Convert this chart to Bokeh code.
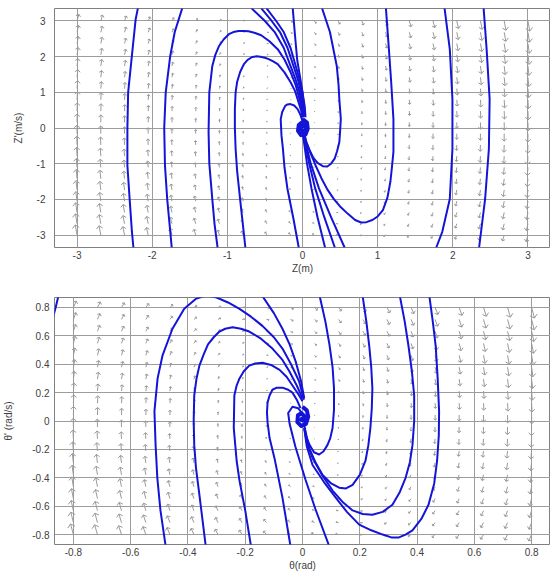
import numpy as np
from bokeh.plotting import figure
from bokeh.layouts import column
from bokeh.models import FixedTicker, Range1d
from bokeh.embed import file_html
from bokeh.resources import INLINE

FONT = "Liberation Sans"
CURVE_COLOR = "#1414d8"
ARROW_COLOR = "#9a9a9a"

# ---------------- top panel : heave Z ----------------
Z_X_RANGE = (-3.3, 3.3)
Z_Y_RANGE = (-3.35, 3.35)
Z_TICKS = [-3, -2, -1, 0, 1, 2, 3]
Z_TICK_LABELS = ["-3", "-2", "-1", "0", "1", "2", "3"]
Z_GRID = [-3.0, -2.684, -2.368, -2.053, -1.737, -1.421, -1.105, -0.789, -0.474, -0.158,
          0.158, 0.474, 0.789, 1.105, 1.421, 1.737, 2.053, 2.368, 2.684, 3.0]
Z_STIFFNESS = 10.0
Z_DAMPING = 2.0

Z_TRAJ_A = [(-2.19, 3.36), (-2.22, 3.05), (-2.27, 2.03), (-2.32, 1.0), (-2.33, 0.0), (-2.33, -1.05),
            (-2.30, -2.0), (-2.27, -2.9), (-2.25, -3.35)]
Z_TRAJ_B = [(-1.60, 3.36), (-1.70, 2.69), (-1.76, 2.02), (-1.82, 1.0), (-1.84, 0.0), (-1.83, -1.05),
            (-1.80, -2.0), (-1.76, -2.9), (-1.74, -3.35)]
Z_TRAJ_C = [(-1.13, -3.35), (-1.17, -2.7), (-1.20, -2.0), (-1.24, -1.0), (-1.25, -0.11), (-1.24, 1.0),
            (-1.20, 1.74), (-1.16, 2.05), (-1.11, 2.30), (-1.05, 2.48), (-0.98, 2.63), (-0.92, 2.69),
            (-0.85, 2.72), (-0.78, 2.72), (-0.72, 2.71), (-0.64, 2.67), (-0.55, 2.60), (-0.44, 2.43),
            (-0.33, 2.21), (-0.24, 1.92), (-0.16, 1.57), (-0.09, 1.2), (-0.04, 0.81), (0.0, 0.5),
            (0.02, 0.3)]
Z_TRAJ_D = [(-0.76, -3.35), (-0.83, -2.0), (-0.87, -1.2), (-0.89, -0.59), (-0.90, 0.0), (-0.90, 0.53),
            (-0.89, 1.0), (-0.87, 1.29), (-0.83, 1.57), (-0.78, 1.79), (-0.73, 1.91), (-0.67, 1.99),
            (-0.61, 2.01), (-0.56, 2.0), (-0.50, 1.97), (-0.45, 1.93), (-0.39, 1.87), (-0.33, 1.79),
            (-0.24, 1.56), (-0.16, 1.29), (-0.10, 1.04), (-0.065, 0.81), (-0.02, 0.5), (0.0, 0.3)]
Z_TRAJ_E = [(0.26, 3.36), (0.365, 2.69), (0.456, 1.74), (0.48, 1.2), (0.49, 0.81), (0.51, 0.25),
            (0.50, -0.1), (0.49, -0.4), (0.46, -0.65), (0.43, -0.85), (0.38, -1.0), (0.33, -1.08),
            (0.27, -1.07), (0.20, -0.98), (0.14, -0.82), (0.09, -0.6), (0.05, -0.4), (0.03, -0.25)]
Z_TRAJ_F = [(1.11, 3.36), (1.15, 2.2), (1.18, 1.29), (1.21, 0.25), (1.21, -0.67), (1.19, -1.1),
            (1.17, -1.5), (1.13, -1.95), (1.07, -2.3), (1.00, -2.48), (0.93, -2.58), (0.85, -2.64),
            (0.78, -2.65), (0.70, -2.58), (0.60, -2.4), (0.50, -2.2), (0.42, -2.0), (0.33, -1.72),
            (0.25, -1.4), (0.17, -1.03), (0.10, -0.67), (0.05, -0.38), (0.03, -0.2)]
Z_TRAJ_G = [(1.89, 3.36), (1.96, 2.21), (1.995, 0.81), (1.995, -0.59), (1.96, -1.99), (1.86, -2.91),
            (1.78, -3.35)]
Z_TRAJ_H = [(2.41, 3.36), (2.45, 2.21), (2.49, 0.81), (2.48, -0.59), (2.43, -1.99), (2.35, -3.35)]
Z_TRAJ_J1 = [(-0.68, 3.36), (-0.50, 3.0), (-0.37, 2.69), (-0.25, 2.25), (-0.16, 1.74), (-0.09, 1.35),
             (-0.04, 1.0), (0.0, 0.6), (0.02, 0.34)]
Z_TRAJ_J2 = [(-0.55, 3.36), (-0.41, 3.0), (-0.30, 2.69), (-0.20, 2.25), (-0.12, 1.74), (-0.06, 1.35),
             (-0.02, 1.0), (0.01, 0.6), (0.02, 0.34)]
Z_TRAJ_J3 = [(-0.48, 3.36), (-0.35, 3.0), (-0.25, 2.69), (-0.16, 2.25), (-0.09, 1.74), (-0.04, 1.35),
             (0.0, 1.0), (0.02, 0.6), (0.03, 0.34)]
Z_TRAJ_L = [(-0.13, 3.36), (-0.10, 2.6), (-0.07, 1.9), (-0.03, 1.4), (0.0, 1.0), (0.03, 0.6),
            (0.04, 0.3)]
Z_TRAJ_K = [(-0.05, -3.35), (-0.12, -2.55), (-0.20, -1.71), (-0.24, -1.1), (-0.26, -0.59),
            (-0.28, -0.2), (-0.29, 0.25), (-0.27, 0.45), (-0.23, 0.62), (-0.20, 0.66), (-0.16, 0.67),
            (-0.11, 0.63), (-0.065, 0.53), (-0.03, 0.38), (0.0, 0.2)]
Z_TRAJ_M1 = [(0.0, -0.1), (0.02, -0.4), (0.06, -1.0), (0.12, -1.7), (0.20, -2.5), (0.30, -3.35)]
Z_TRAJ_M2 = [(0.0, -0.1), (0.03, -0.4), (0.09, -1.0), (0.17, -1.7), (0.29, -2.5), (0.43, -3.35)]
Z_TRAJ_M3 = [(0.0, -0.1), (0.04, -0.4), (0.11, -1.0), (0.22, -1.7), (0.38, -2.5), (0.56, -3.35)]
Z_SWIRL = [(0.0, 0.25), (0.06, 0.15), (0.07, -0.02), (0.04, -0.18), (-0.02, -0.2), (-0.06, -0.08),
           (-0.05, 0.08), (-0.01, 0.15), (0.04, 0.08), (0.04, -0.06), (0.0, -0.1), (-0.03, -0.02),
           (-0.01, 0.05), (0.01, 0.0)]
Z_TRAJS = [Z_TRAJ_A, Z_TRAJ_B, Z_TRAJ_C, Z_TRAJ_D, Z_TRAJ_E, Z_TRAJ_F, Z_TRAJ_G, Z_TRAJ_H,
           Z_TRAJ_J1, Z_TRAJ_J2, Z_TRAJ_J3, Z_TRAJ_L, Z_TRAJ_K, Z_TRAJ_M1, Z_TRAJ_M2, Z_TRAJ_M3]

# ---------------- bottom panel : pitch theta ----------------
TH_X_RANGE = (-0.866, 0.866)
TH_Y_RANGE = (-0.87, 0.87)
TH_TICKS = [-0.8, -0.6, -0.4, -0.2, 0.0, 0.2, 0.4, 0.6, 0.8]
TH_TICK_LABELS = ["-0.8", "-0.6", "-0.4", "-0.2", "0", "0.2", "0.4", "0.6", "0.8"]
TH_GRID = [-0.8, -0.716, -0.632, -0.547, -0.463, -0.379, -0.295, -0.211, -0.126, -0.042,
           0.042, 0.126, 0.211, 0.295, 0.379, 0.463, 0.547, 0.632, 0.716, 0.8]
TH_STIFFNESS = 6.0
TH_DAMPING = 1.5

TH_TRAJ_N = [(-0.875, 0.70), (-0.862, 0.80), (-0.85, 0.90)]
TH_TRAJ_P = [(-0.478, -0.88), (-0.496, -0.63), (-0.507, -0.4), (-0.513, -0.17), (-0.517, 0.07),
             (-0.506, 0.30), (-0.489, 0.46), (-0.454, 0.65), (-0.413, 0.79), (-0.373, 0.86),
             (-0.335, 0.885), (-0.30, 0.87), (-0.26, 0.835), (-0.22, 0.79), (-0.18, 0.735),
             (-0.14, 0.67), (-0.10, 0.59), (-0.07, 0.51), (-0.04, 0.40), (-0.012, 0.28),
             (0.005, 0.15)]
TH_TRAJ_Q = [(-0.338, -0.88), (-0.36, -0.52), (-0.372, -0.33), (-0.378, -0.17), (-0.38, 0.0),
             (-0.378, 0.18), (-0.37, 0.30), (-0.36, 0.39), (-0.345, 0.47), (-0.33, 0.54),
             (-0.31, 0.59), (-0.29, 0.63), (-0.27, 0.65), (-0.244, 0.66), (-0.215, 0.65),
             (-0.186, 0.63), (-0.145, 0.58), (-0.105, 0.51), (-0.07, 0.43), (-0.046, 0.35),
             (-0.02, 0.25), (0.0, 0.16)]
TH_TRAJ_R = [(-0.18, -0.88), (-0.20, -0.63), (-0.22, -0.42), (-0.23, -0.28), (-0.24, -0.05),
             (-0.238, 0.18), (-0.23, 0.25), (-0.22, 0.30), (-0.205, 0.35), (-0.186, 0.39),
             (-0.165, 0.405), (-0.14, 0.41), (-0.11, 0.395), (-0.08, 0.36), (-0.055, 0.31),
             (-0.035, 0.25), (-0.015, 0.19), (0.0, 0.14)]
TH_TRAJ_S = [(-0.042, -0.88), (-0.07, -0.54), (-0.098, -0.26), (-0.115, -0.12), (-0.122, -0.01),
             (-0.124, 0.06), (-0.122, 0.13), (-0.115, 0.18), (-0.105, 0.22), (-0.09, 0.235),
             (-0.07, 0.235), (-0.05, 0.22), (-0.035, 0.2), (-0.02, 0.15), (-0.007, 0.09)]
TH_TRAJ_T = [(0.093, -0.88), (0.045, -0.62), (0.01, -0.41), (-0.025, -0.18), (-0.045, -0.02),
             (-0.05, 0.056), (-0.035, 0.1), (-0.015, 0.09), (0.0, 0.05)]
TH_TRAJ_Z = [(-0.14, 0.88), (-0.10, 0.76), (-0.07, 0.65), (-0.045, 0.54), (-0.024, 0.42),
             (-0.005, 0.28), (0.006, 0.16)]
TH_TRAJ_V = [(0.06, 0.88), (0.08, 0.7), (0.094, 0.54), (0.105, 0.38), (0.11, 0.23), (0.11, 0.08),
             (0.105, -0.05), (0.097, -0.12), (0.087, -0.17), (0.073, -0.215), (0.058, -0.236),
             (0.04, -0.22), (0.025, -0.17), (0.013, -0.11), (0.007, -0.05)]
TH_TRAJ_W = [(0.21, 0.88), (0.223, 0.7), (0.233, 0.53), (0.24, 0.38), (0.244, 0.23), (0.242, 0.09),
             (0.237, -0.05), (0.23, -0.17), (0.22, -0.28), (0.2, -0.38), (0.175, -0.45),
             (0.152, -0.475), (0.128, -0.47), (0.1, -0.44), (0.07, -0.38), (0.045, -0.29),
             (0.023, -0.19), (0.006, -0.03)]
TH_TRAJ_X = [(0.34, 0.88), (0.357, 0.7), (0.37, 0.53), (0.382, 0.35), (0.39, 0.18), (0.39, 0.0),
             (0.384, -0.17), (0.375, -0.29), (0.36, -0.40), (0.34, -0.50), (0.314, -0.59),
             (0.28, -0.64), (0.244, -0.66), (0.21, -0.655), (0.175, -0.63), (0.14, -0.57),
             (0.105, -0.49), (0.07, -0.385), (0.035, -0.26), (0.015, -0.15), (0.006, -0.05)]
TH_TRAJ_Y = [(0.443, 0.88), (0.455, 0.7), (0.465, 0.53), (0.472, 0.3), (0.477, 0.07),
             (0.476, -0.1), (0.47, -0.28), (0.46, -0.44), (0.44, -0.59), (0.415, -0.69),
             (0.384, -0.77), (0.36, -0.80), (0.337, -0.82), (0.31, -0.82), (0.28, -0.80),
             (0.24, -0.77), (0.198, -0.73), (0.155, -0.64), (0.116, -0.54), (0.075, -0.43),
             (0.035, -0.31), (0.015, -0.18), (0.006, -0.05)]
TH_SWIRL = [(0.0, 0.1), (0.015, 0.075), (0.02, 0.03), (0.012, -0.02), (-0.004, -0.035),
            (-0.018, -0.008), (-0.016, 0.04), (-0.004, 0.055), (0.008, 0.03), (0.006, 0.0),
            (-0.004, 0.008), (0.0, 0.025)]
TH_TRAJS = [TH_TRAJ_N, TH_TRAJ_P, TH_TRAJ_Q, TH_TRAJ_R, TH_TRAJ_S, TH_TRAJ_T, TH_TRAJ_Z,
            TH_TRAJ_V, TH_TRAJ_W, TH_TRAJ_X, TH_TRAJ_Y]


def quiver(p, grid, k, c, sx, sy):
    g = np.array(grid)
    X, Y = np.meshgrid(g, g)
    X = X.ravel()
    Y = Y.ravel()
    U = Y.copy()
    V = -k * X - c * Y
    d = g[1] - g[0]
    s = 0.9 * d / np.hypot(U, V).max()
    U = U * s
    V = V * s
    x1 = X + U
    y1 = Y + V
    pu = U * sx
    pv = V * sy
    L = np.hypot(pu, pv)
    L[L == 0] = 1e-9
    ux = pu / L
    uy = pv / L
    h = 0.30 * L
    w = 0.34 * L
    hx1 = x1 + (-h * ux - w * uy) / sx
    hy1 = y1 + (-h * uy + w * ux) / sy
    hx2 = x1 + (-h * ux + w * uy) / sx
    hy2 = y1 + (-h * uy - w * ux) / sy
    p.segment(x0=np.concatenate([X, x1, x1]), y0=np.concatenate([Y, y1, y1]),
              x1=np.concatenate([x1, hx1, hx2]), y1=np.concatenate([y1, hy1, hy2]),
              line_color=ARROW_COLOR, line_width=1)


def panel(xr, yr, ticks, labels, xlabel, ylabel, grid, k, c, trajs, swirl,
          width, height, bl, bt, bb, tick_sep, lab_sep):
    p = figure(width=width, height=height, x_range=Range1d(*xr), y_range=Range1d(*yr),
               output_backend="svg", toolbar_location=None,
               min_border_left=bl, min_border_right=0, min_border_top=bt, min_border_bottom=bb)
    p.background_fill_color = "white"
    p.border_fill_color = "white"
    p.outline_line_color = "#808080"
    p.grid.grid_line_color = "#9c9c9c"
    p.grid.grid_line_width = 1
    p.xaxis.ticker = FixedTicker(ticks=ticks)
    p.yaxis.ticker = FixedTicker(ticks=ticks)
    over = {t: l for t, l in zip(ticks, labels)}
    p.xaxis.major_label_overrides = over
    p.yaxis.major_label_overrides = over
    p.xaxis.axis_label = xlabel
    p.yaxis.axis_label = ylabel
    for ax in p.axis:
        ax.major_tick_in = 0
        ax.major_tick_out = 0
        ax.minor_tick_line_color = None
        ax.axis_line_color = None
        ax.major_label_text_font = FONT
        ax.major_label_text_font_size = "10px"
        ax.major_label_text_color = "#404040"
        ax.axis_label_text_font = FONT
        ax.axis_label_text_font_size = "10px"
        ax.axis_label_text_font_style = "normal"
        ax.axis_label_text_color = "#404040"
    p.xaxis.major_label_standoff = 3
    p.xaxis.axis_label_standoff = 1
    p.yaxis.major_label_standoff = tick_sep
    p.yaxis.axis_label_standoff = lab_sep

    fw = width - bl
    fh = height - bt - bb
    sx = fw / (xr[1] - xr[0])
    sy = fh / (yr[1] - yr[0])
    quiver(p, grid, k, c, sx, sy)
    xs = [[pt[0] for pt in t] for t in trajs]
    ys = [[pt[1] for pt in t] for t in trajs]
    p.multi_line(xs, ys, line_color=CURVE_COLOR, line_width=2, line_join="round")
    p.line([pt[0] for pt in swirl], [pt[1] for pt in swirl], line_color=CURVE_COLOR,
           line_width=4, line_join="round")
    return p


p1 = panel(Z_X_RANGE, Z_Y_RANGE, Z_TICKS, Z_TICK_LABELS, "Z(m)", "Z'(m/s)", Z_GRID,
           Z_STIFFNESS, Z_DAMPING, Z_TRAJS, Z_SWIRL, 550, 276, 44, 8, 29, 9, 10)
p2 = panel(TH_X_RANGE, TH_Y_RANGE, TH_TICKS, TH_TICK_LABELS, "θ(rad)", "θ' (rad/s)", TH_GRID,
           TH_STIFFNESS, TH_DAMPING, TH_TRAJS, TH_SWIRL, 550, 297, 54, 21, 28, 5, 15)

layout = column(p1, p2)
open("out.html", "w").write(file_html(layout, INLINE))
